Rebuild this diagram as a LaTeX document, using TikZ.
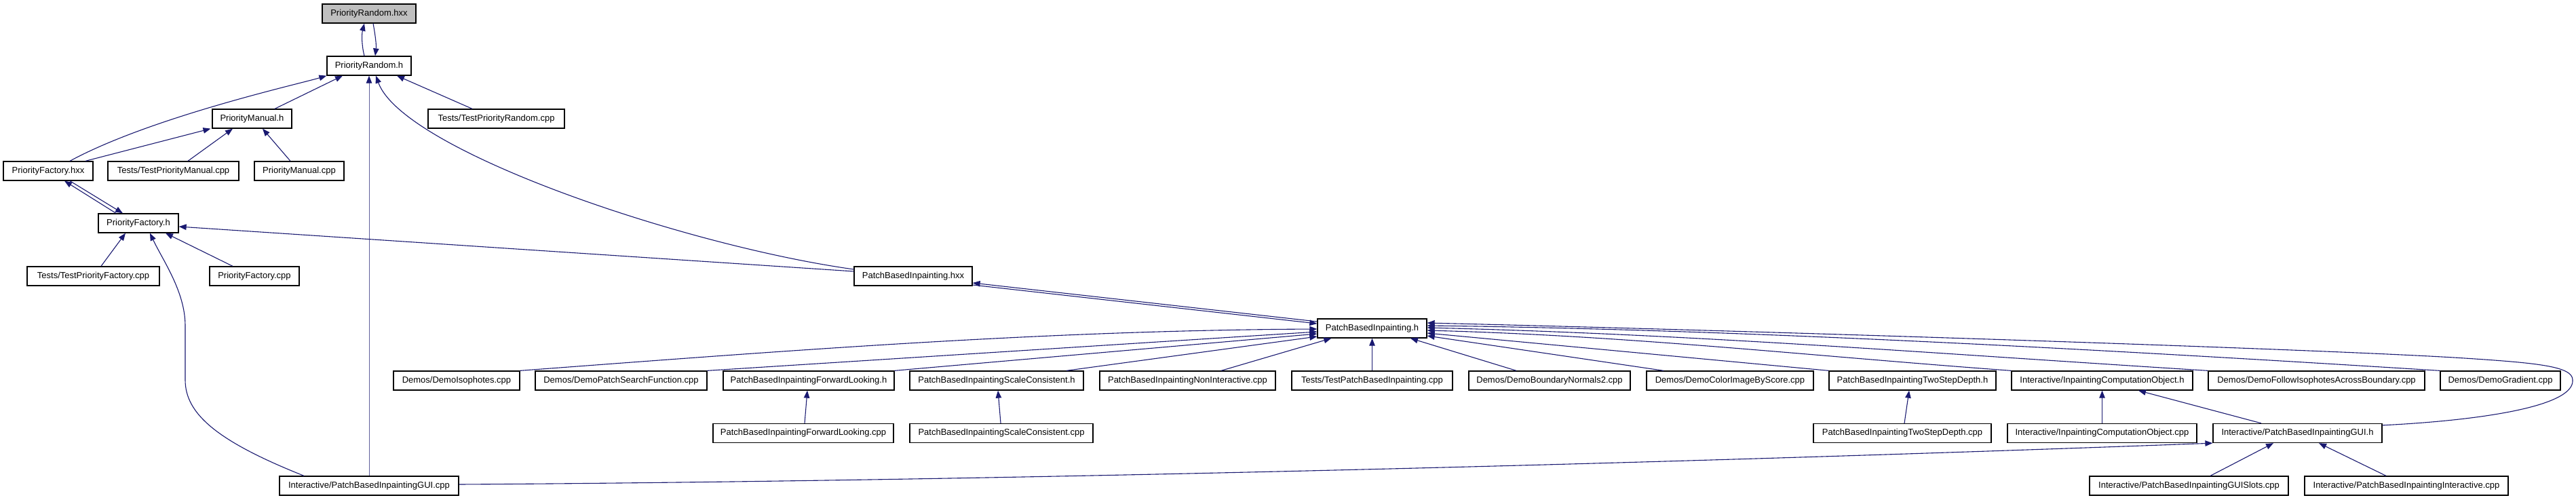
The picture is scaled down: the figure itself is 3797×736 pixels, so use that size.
\documentclass[tikz,border=0pt]{standalone}
\usepackage{fontspec}
\setmainfont{Liberation Sans}
\usetikzlibrary{arrows.meta}
\definecolor{edgec}{HTML}{191970}
\definecolor{grayfill}{HTML}{BFBFBF}
\begin{document}
\begin{tikzpicture}[x=1pt,y=-1pt,
  box/.style={draw=black,line width=1.3pt,fill=white,minimum height=28pt,inner sep=0pt,font=\fontsize{13}{15}\selectfont},
  edge/.style={draw=edgec,line width=1.1pt,-{Triangle[length=11pt,width=8.5pt,color=edgec]}}]
\useasboundingbox (0,0) rectangle (3797,736);
% row 1-2
\node[box,minimum width=138pt,fill=grayfill] (PRhxx) at (544,20) {PriorityRandom.hxx};
\node[box,minimum width=124pt] (PRh) at (544,97) {PriorityRandom.h};
% row 3
\node[box,minimum width=117pt] (PMh) at (371.5,175) {PriorityManual.h};
\node[box,minimum width=201pt] (TestPR) at (731.5,175) {Tests/TestPriorityRandom.cpp};
% row 4
\node[box,minimum width=132pt] (PFhxx) at (71,252) {PriorityFactory.hxx};
\node[box,minimum width=193pt] (TestPM) at (255.5,252) {Tests/TestPriorityManual.cpp};
\node[box,minimum width=132pt] (PMcpp) at (441,252) {PriorityManual.cpp};
% row 5
\node[box,minimum width=118pt] (PFh) at (204,329) {PriorityFactory.h};
% row 6
\node[box,minimum width=195pt] (TestPF) at (137.5,407) {Tests/TestPriorityFactory.cpp};
\node[box,minimum width=132pt] (PFcpp) at (375,407) {PriorityFactory.cpp};
\node[box,minimum width=174pt] (PBIhxx) at (1346,407) {PatchBasedInpainting.hxx};
% row 7
\node[box,minimum width=161pt] (PBIh) at (2022.5,484) {PatchBasedInpainting.h};
% row 8
\node[box,minimum width=186pt] (Iso) at (673,561) {Demos/DemoIsophotes.cpp};
\node[box,minimum width=253pt] (PatchSearch) at (915.5,561) {Demos/DemoPatchSearchFunction.cpp};
\node[box,minimum width=252pt] (FwdH) at (1192,561) {PatchBasedInpaintingForwardLooking.h};
\node[box,minimum width=256pt] (ScaleH) at (1469,561) {PatchBasedInpaintingScaleConsistent.h};
\node[box,minimum width=259pt] (NonInt) at (1750.5,561) {PatchBasedInpaintingNonInteractive.cpp};
\node[box,minimum width=237pt] (TestPBI) at (2022.5,561) {Tests/TestPatchBasedInpainting.cpp};
\node[box,minimum width=238pt] (BN2) at (2284,561) {Demos/DemoBoundaryNormals2.cpp};
\node[box,minimum width=246pt] (ColorImg) at (2550,561) {Demos/DemoColorImageByScore.cpp};
\node[box,minimum width=246pt] (TwoStepH) at (2819,561) {PatchBasedInpaintingTwoStepDepth.h};
\node[box,minimum width=267pt] (ICOh) at (3098.5,561) {Interactive/InpaintingComputationObject.h};
\node[box,minimum width=319pt] (Follow) at (3414.5,561) {Demos/DemoFollowIsophotesAcrossBoundary.cpp};
\node[box,minimum width=177pt] (Gradient) at (3685.5,561) {Demos/DemoGradient.cpp};
% row 9
\node[box,minimum width=266pt] (FwdCpp) at (1184,638.5) {PatchBasedInpaintingForwardLooking.cpp};
\node[box,minimum width=270pt] (ScaleCpp) at (1476,638.5) {PatchBasedInpaintingScaleConsistent.cpp};
\node[box,minimum width=262pt] (TwoStepCpp) at (2804,638.5) {PatchBasedInpaintingTwoStepDepth.cpp};
\node[box,minimum width=279pt] (ICOcpp) at (3098.5,638.5) {Interactive/InpaintingComputationObject.cpp};
\node[box,minimum width=249pt] (GUIh) at (3386.5,638.5) {Interactive/PatchBasedInpaintingGUI.h};
% row 10
\node[box,minimum width=264pt] (GUIcpp) at (544,716) {Interactive/PatchBasedInpaintingGUI.cpp};
\node[box,minimum width=293pt] (GUISlots) at (3226.5,716) {Interactive/PatchBasedInpaintingGUISlots.cpp};
\node[box,minimum width=300pt] (Interactive) at (3547,716) {Interactive/PatchBasedInpaintingInteractive.cpp};

% edges: PriorityRandom
\draw[edge] ([xshift=-7pt]PRh.north) .. controls +(-4,-16) and +(-4,16) .. ([xshift=-7pt]PRhxx.south);
\draw[edge] ([xshift=6pt]PRhxx.south) .. controls +(3,16) and +(2,-16) .. ([xshift=9pt]PRh.north);
\draw[edge] ([xshift=32pt]PFhxx.north) .. controls +(120,-65) and +(-40,12) .. (PRh.south west);
\draw[edge] ([xshift=33.5pt]PMh.north) -- ([xshift=-39pt]PRh.south);
\draw[edge] ([xshift=-35.5pt]TestPR.north) -- ([xshift=41pt]PRh.south);
\draw[edge,draw=edgec!70,line width=0.9pt] (GUIcpp.north) -- (PRh.south);
\draw[edge] ([yshift=10pt]PBIhxx.west) .. controls +(-250,-35) and +(40,110) .. ([xshift=10pt]PRh.south);
% PriorityManual
\draw[edge] ([xshift=55pt]PFhxx.north) -- ([xshift=-61pt]PMh.south);
\draw[edge] ([xshift=21.5pt]TestPM.north) -- ([xshift=-28.5pt]PMh.south);
\draw[edge] ([xshift=-13pt]PMcpp.north) -- ([xshift=15.5pt]PMh.south);
% PriorityFactory
\draw[edge] ([xshift=-33pt]PFh.north) -- ([xshift=24pt]PFhxx.south);
\draw[edge] ([xshift=32pt]PFhxx.south) -- ([xshift=-23pt]PFh.north);
\draw[edge] ([xshift=11.5pt]TestPF.north) -- ([xshift=-19pt]PFh.south);
\draw[edge] ([xshift=-32pt]PFcpp.north) -- ([xshift=40pt]PFh.south);
\draw[edge] ([yshift=7pt]PBIhxx.west) -- ([yshift=-5pt]PFh.east);
\draw[edge] ([xshift=-96pt]GUIcpp.north) .. controls +(-128,-51) and +(0,50) .. (273,560) -- (273,480) .. controls +(0,-50) and +(19,40) .. ([xshift=17pt]PFh.south);
% PatchBasedInpainting.hxx <-> .h
\draw[edge] ([yshift=10pt]PBIh.west) -- ([yshift=-10pt]PBIhxx.east);
\draw[edge] ([yshift=-13pt]PBIhxx.east) -- ([yshift=7pt]PBIh.west);
% into PatchBasedInpainting.h
\draw[edge] (Iso.north east) .. controls +(400,-30) and +(-400,2) .. ([yshift=-1pt]PBIh.west);
\draw[edge] (PatchSearch.north east) -- ([yshift=-5pt]PBIh.west);
\draw[edge] (FwdH.north east) -- ([yshift=-8pt]PBIh.west);
\draw[edge] ([xshift=103pt]ScaleH.north) -- ([yshift=-12pt]PBIh.west);
\draw[edge] ([xshift=49.5pt]NonInt.north) -- ([xshift=21pt]PBIh.south west);
\draw[edge] (TestPBI.north) -- (PBIh.south);
\draw[edge] ([xshift=-49pt]BN2.north) -- ([xshift=56.5pt]PBIh.south);
\draw[edge] ([xshift=-98pt]ColorImg.north) -- ([yshift=-11pt]PBIh.east);
\draw[edge] (TwoStepH.north west) -- ([yshift=-7pt]PBIh.east);
\draw[edge] (ICOh.north west) .. controls +(-300,-22) and +(300,8) .. ([yshift=-3pt]PBIh.east);
\draw[edge] (Follow.north west) .. controls +(-400,-25) and +(400,10) .. ([yshift=1pt]PBIh.east);
\draw[edge] (Gradient.north west) .. controls +(-400,-25) and +(500,6) .. ([yshift=4pt]PBIh.east);
\draw[edge] ([yshift=-3pt]GUIh.north east) .. controls (3650,620) and (3795,600) .. (3792,560) .. controls (3792,540) and (3740,535) .. (3633,528) .. controls (3433,515) and (2603,488) .. ([yshift=8pt]PBIh.east);
% lower rows
\draw[edge] ([xshift=2pt]FwdCpp.north) -- ([xshift=-2pt]FwdH.south);
\draw[edge] ([xshift=-1pt]ScaleCpp.north) -- ([xshift=2pt]ScaleH.south);
\draw[edge] ([xshift=3pt]TwoStepCpp.north) -- ([xshift=-5pt]TwoStepH.south);
\draw[edge] (ICOcpp.north) -- (ICOh.south);
\draw[edge] ([xshift=-53.5pt]GUIh.north) -- ([xshift=53.5pt]ICOh.south);
\draw[edge] ([xshift=31.5pt]GUISlots.north) -- ([xshift=-35.5pt]GUIh.south);
\draw[edge] ([xshift=-30pt]Interactive.north) -- ([xshift=31.5pt]GUIh.south);
\draw[edge] ([yshift=2pt]GUIcpp.east) .. controls +(800,-5) and +(-800,30) .. (GUIh.south west);
\end{tikzpicture}
\end{document}
